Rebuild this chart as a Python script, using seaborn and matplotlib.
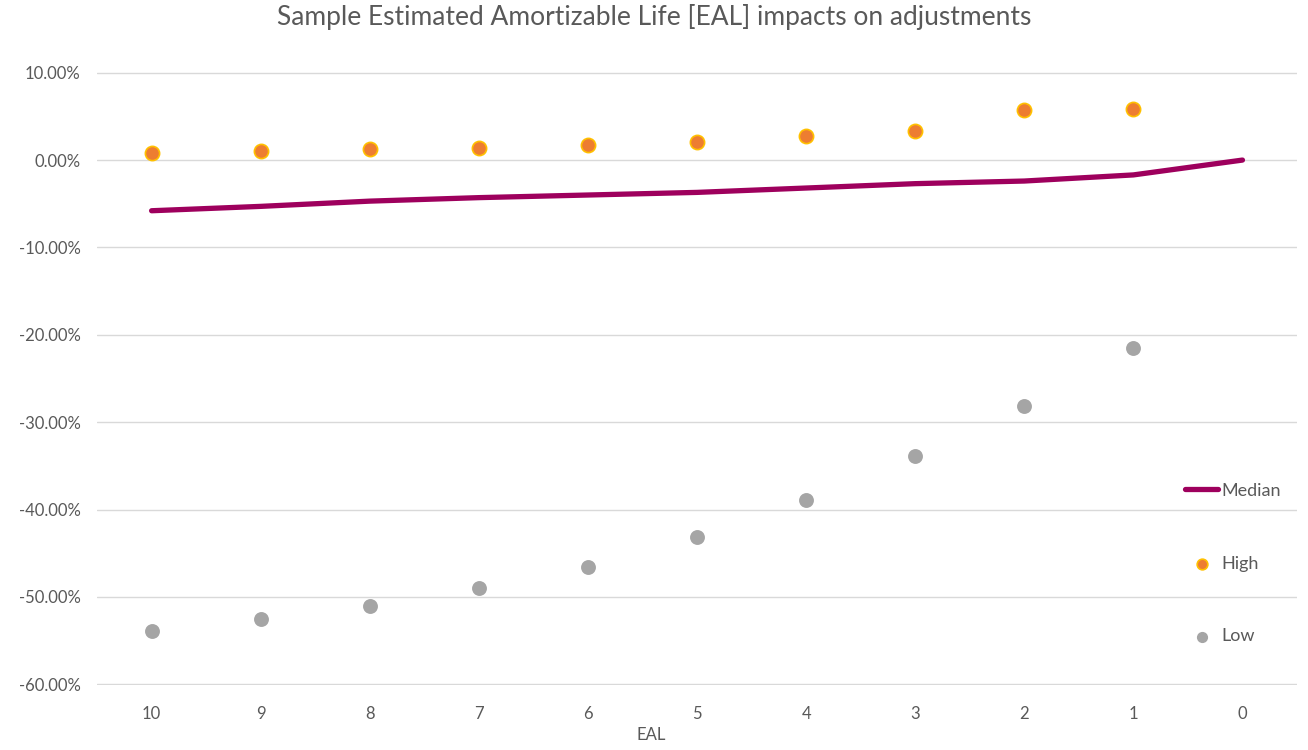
import matplotlib
matplotlib.use('Agg')
import matplotlib.pyplot as plt
import matplotlib.ticker as mtick
import numpy as np
import pandas as pd
import seaborn as sns

# Data
eal = ['10', '9', '8', '7', '6', '5', '4', '3', '2', '1', '0']
median = [-0.058, -0.053, -0.047, -0.043, -0.040, -0.037, -0.032, -0.027, -0.024, -0.017, 0.0]
eal_pts = ['10', '9', '8', '7', '6', '5', '4', '3', '2', '1']
high = [0.008, 0.010, 0.013, 0.014, 0.017, 0.021, 0.027, 0.033, 0.057, 0.059]
low = [-0.539, -0.525, -0.510, -0.490, -0.466, -0.432, -0.389, -0.339, -0.281, -0.215]

df_med = pd.DataFrame({'EAL': eal, 'value': median})
df_pts = pd.DataFrame({'EAL': eal_pts, 'high': high, 'low': low})

sns.set_theme(style='white')
plt.rcParams['font.family'] = ['Lato', 'DejaVu Sans']
plt.rcParams['axes.unicode_minus'] = False

fig = plt.figure(figsize=(13.08, 7.5), dpi=100)
ax = fig.add_axes([0.0742, 0.0867, 0.9174, 0.8173])

sns.lineplot(data=df_med, x='EAL', y='value', ax=ax, color='#9E005D',
             linewidth=3.8, label='Median', solid_capstyle='round', sort=False)
sns.scatterplot(data=df_pts, x='EAL', y='high', ax=ax, color='#ED7D31',
                edgecolor='#FFC000', linewidth=1.2, s=105, label='High', zorder=3)
sns.scatterplot(data=df_pts, x='EAL', y='low', ax=ax, color='#A5A5A5',
                edgecolor='#A5A5A5', linewidth=0, s=115, label='Low', zorder=3)

ax.set_xlim(-0.5, 10.5)
ax.set_ylim(-0.6008, 0.1008)
ax.set_yticks(np.arange(-0.60, 0.101, 0.10))
ax.yaxis.set_major_formatter(mtick.FuncFormatter(lambda v, p: '%.2f%%' % (round(v * 100, 6) + 0.0)))
ax.grid(True, axis='y', color='#D9D9D9', linewidth=1)
ax.set_axisbelow(True)
for s in ax.spines.values():
    s.set_visible(False)
ax.tick_params(axis='x', length=0, labelsize=12, labelcolor='#595959', pad=15)
ax.tick_params(axis='y', length=0, labelsize=12, labelcolor='#595959', pad=12)

ax.set_xlabel('EAL', fontsize=12, color='#595959', labelpad=2)
ax.xaxis.set_label_coords(0.4617, -0.068)
ax.set_ylabel('')
fig.suptitle('Sample Estimated Amortizable Life [EAL] impacts on adjustments',
             fontsize=19, color='#595959', y=0.995)

leg = ax.legend(loc='center left', bbox_to_anchor=(0.893, 0.198), frameon=False,
                fontsize=13, labelspacing=3.15, handlelength=1.85, handletextpad=0.15,
                labelcolor='#595959', markerscale=0.75)

fig.savefig('out.png', dpi=100)
